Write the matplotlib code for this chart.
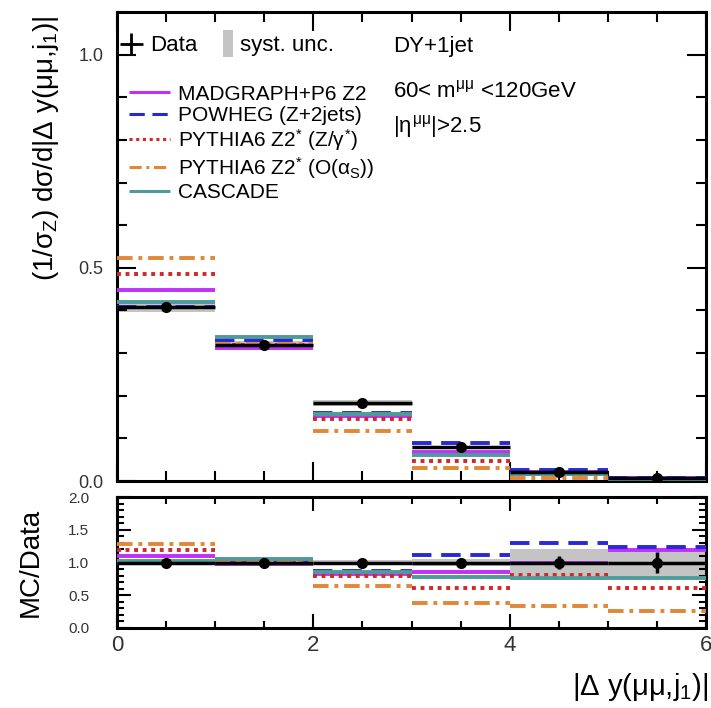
import numpy as np
import matplotlib
matplotlib.use("Agg")
import matplotlib.pyplot as plt
from matplotlib.lines import Line2D
from matplotlib.patches import Patch, Rectangle
from matplotlib.legend_handler import HandlerPatch
from matplotlib.ticker import MultipleLocator

plt.rcParams['font.family'] = ['Liberation Sans', 'DejaVu Sans']
plt.rcParams['mathtext.fontset'] = 'custom'
plt.rcParams['mathtext.rm'] = 'Liberation Sans'
plt.rcParams['mathtext.it'] = 'Liberation Sans'
plt.rcParams['mathtext.bf'] = 'Liberation Sans:bold'
plt.rcParams['mathtext.sf'] = 'Liberation Sans'

# ---- data ----
bin_edges = [0, 1, 2, 3, 4, 5, 6]
data_vals = [0.408, 0.318, 0.183, 0.079, 0.020, 0.006]
data_stat = [0.006, 0.005, 0.005, 0.003, 0.002, 0.001]
syst_rel = [0.03, 0.03, 0.04, 0.05, 0.20, 0.21]

madgraph = [0.449, 0.312, 0.152, 0.068, 0.020, 0.0071]
powheg = [0.408, 0.331, 0.159, 0.088, 0.026, 0.0074]
pythia_z = [0.486, 0.318, 0.146, 0.048, 0.0162, 0.0037]
pythia_as = [0.522, 0.321, 0.117, 0.030, 0.0068, 0.0016]
cascade = [0.420, 0.337, 0.157, 0.061, 0.0154, 0.0046]

labels = ["MADGRAPH+P6 Z2", "POWHEG (Z+2jets)",
          r"PYTHIA6 Z2$^{*}$ (Z/$\gamma^{*}$)",
          r"PYTHIA6 Z2$^{*}$ (O($\alpha_{S}$))", "CASCADE"]
colors = ["#c030f8", "#2828d8", "#d02828", "#e08838", "#4f9a9a"]
styles = [(0, ()), (0, (5, 2.5)), (0, (1, 1.2)), (0, (4, 1.5, 1, 1.5)), (0, ())]
series = [madgraph, powheg, pythia_z, pythia_as, cascade]

edges = np.array(bin_edges, dtype=float)
lo, hi = edges[:-1], edges[1:]
centers = 0.5 * (lo + hi)
d = np.array(data_vals)
ds = np.array(data_stat)
syst = np.array(syst_rel)

fig = plt.figure(figsize=(7.11, 7.08), dpi=100)
ax = fig.add_axes([0.1646, 0.3206, 0.8284, 0.6624])
axr = fig.add_axes([0.1646, 0.113, 0.8284, 0.185])

# syst band
for a, base in ((ax, d), (axr, np.ones_like(d))):
    a.bar(centers, 2 * syst * base, bottom=base * (1 - syst), width=1.0,
          color="#c4c4c4", edgecolor="none", zorder=1)

for vals, c, ls in zip(series, colors, styles):
    v = np.array(vals)
    ax.hlines(v, lo, hi, colors=c, linestyles=[ls], linewidth=2.8, zorder=3)
    axr.hlines(v / d, lo, hi, colors=c, linestyles=[ls], linewidth=2.8, zorder=3)

ax.errorbar(centers, d, yerr=ds, xerr=0.5, fmt='o', color='black', ms=7,
            elinewidth=2.5, capsize=0, zorder=5)
axr.errorbar(centers, np.ones_like(d), yerr=ds / d, xerr=0.5, fmt='o',
             color='black', ms=7, elinewidth=2.5, capsize=0, zorder=5)

# axes styles
for a in (ax, axr):
    a.set_xlim(0, 6)
    a.xaxis.set_major_locator(MultipleLocator(2))
    a.xaxis.set_minor_locator(MultipleLocator(0.5))
    a.tick_params(which='both', direction='in', top=True, right=True, width=1.5)
    for s in a.spines.values():
        s.set_linewidth(2.2)

ax.set_ylim(0, 1.10)
ax.yaxis.set_major_locator(MultipleLocator(0.5))
ax.yaxis.set_minor_locator(MultipleLocator(0.1))
ax.tick_params(which='major', length=14, labelsize=13, labelcolor='#333333', pad=10)
ax.tick_params(which='minor', length=7)
ax.tick_params(axis='x', labelbottom=False)

axr.set_ylim(0, 2.0)
axr.yaxis.set_major_locator(MultipleLocator(0.5))
axr.yaxis.set_minor_locator(MultipleLocator(0.1))
axr.tick_params(which='major', length=10)
axr.tick_params(which='minor', length=5)
axr.tick_params(axis='y', labelsize=11, labelcolor='#333333', pad=20)
axr.tick_params(axis='x', labelsize=16, labelcolor='#333333', pad=5)

ax.set_ylabel(r"(1/$\sigma_{Z}$) d$\sigma$/d|$\Delta$ y($\mu\mu$,j$_{1}$)|", fontsize=20)
ax.yaxis.set_label_coords(-0.095, 0.71)
axr.set_ylabel("MC/Data", fontsize=20)
axr.yaxis.set_label_coords(-0.125, 0.5)
axr.set_xlabel(r"|$\Delta$ y($\mu\mu$,j$_{1}$)|", fontsize=21)
axr.xaxis.set_label_coords(1.005, -0.33)
axr.xaxis.label.set_horizontalalignment('right')


def narrow_box(legend, orig_handle, xdescent, ydescent, width, height, fontsize):
    return Rectangle((xdescent + width * 0.55, ydescent - height * 0.35),
                     width * 0.38, height * 1.7)


# legends
hdata = ax.errorbar([], [], yerr=[], xerr=[], fmt='+', color='black', ms=8, elinewidth=2)
hsys = Patch(facecolor="#c4c4c4", edgecolor='none')
leg1 = ax.legend([hdata, hsys], ["Data", "syst. unc."], ncol=2, loc='upper left',
                 bbox_to_anchor=(0.0, 0.95), frameon=False, fontsize=16,
                 handlelength=1.3, handletextpad=0.2, columnspacing=0.4,
                 borderpad=0, borderaxespad=0,
                 handler_map={Patch: HandlerPatch(patch_func=narrow_box)})
ax.add_artist(leg1)
hl = [Line2D([], [], color=c, ls=ls, lw=2.2) for c, ls in zip(colors, styles)]
leg2 = ax.legend(hl, labels, loc='upper left', bbox_to_anchor=(0.02, 0.845),
                 frameon=False, fontsize=15, handlelength=2.0, handletextpad=0.35,
                 labelspacing=0.1, borderpad=0, borderaxespad=0)

ax.text(0.468, 0.915, "DY+1jet", transform=ax.transAxes, fontsize=16)
ax.text(0.468, 0.818, r"60< m$^{\mu\mu}$ <120GeV", transform=ax.transAxes, fontsize=16)
ax.text(0.468, 0.743, r"|$\eta^{\mu\mu}$|>2.5", transform=ax.transAxes, fontsize=16)

fig.savefig("out.png", dpi=100)
